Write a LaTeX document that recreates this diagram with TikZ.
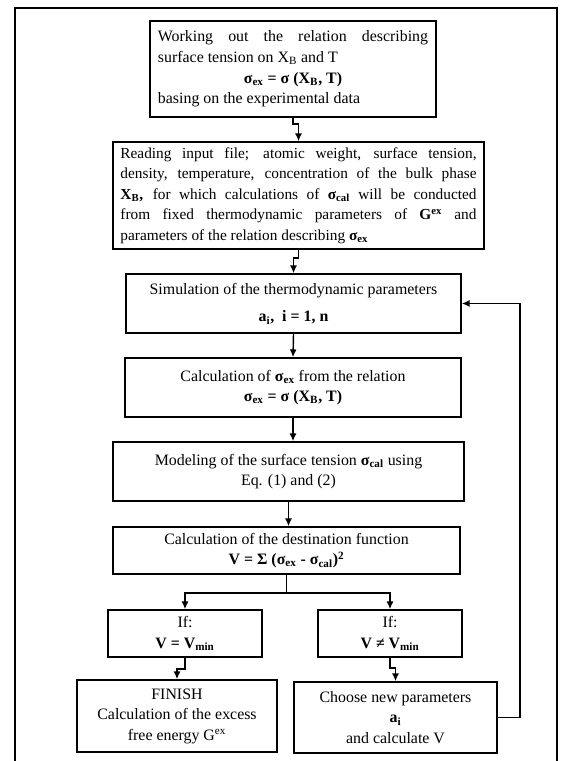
\documentclass[tikz,border=0pt]{standalone}
\usepackage{fontspec}
\setmainfont{Liberation Serif}
\usetikzlibrary{arrows.meta}

\begin{document}
\begin{tikzpicture}[x=0.025cm, y=-0.025cm]
        \tikzstyle{block}=[draw, line width=1.15pt, inner sep=0pt, align=center, font=\fontsize{11.3}{14.6}\selectfont]
        \tikzstyle{flow}=[line width=1pt, -{Latex[length=5.5pt,width=5pt]}]

        \useasboundingbox (0,0) rectangle (564,761);
        \draw[line width=0.9pt] (15,761) -- (15,8) -- (557,8) -- (557,761);

        \node[block, text width=6.75cm, inner xsep=0.2cm, minimum height=2.4cm, align=justify] (rel) at (293,69) {Working out the relation describing\linebreak surface tension on X\textsubscript{B} and T\\
            \hspace*{\fill}\textbf{σ\textsubscript{ex} = σ (X\textsubscript{B}, T)}\hspace*{\fill}\\
            basing on the experimental data};
        \node[block, text width=8.9cm, inner xsep=0.1875cm, minimum height=2.675cm, align=justify, font=\fontsize{10.9}{14.6}\selectfont] (inp) at (298.5,195.5) {Reading input file; atomic weight, surface tension,\linebreak
            density, temperature, concentration of the bulk phase\linebreak
            \textbf{X\textsubscript{B},} for which calculations of \textbf{σ\textsubscript{cal}} will be conducted\linebreak
            from fixed thermodynamic parameters of \textbf{G\textsuperscript{ex}} and\linebreak
            parameters of the relation describing \textbf{σ\textsubscript{ex}}};
        \node[block, minimum width=8.375cm, minimum height=1.475cm] (sim) at (293.5,303.5) {Simulation of the thermodynamic parameters\\[5pt] \textbf{a\textsubscript{i},\ \ i = 1, n}};
        \node[block, minimum width=8.4cm, minimum height=1.475cm] (sex) at (293,387.5) {Calculation of \textbf{σ\textsubscript{ex}} from the relation\\ \textbf{σ\textsubscript{ex} = σ (X\textsubscript{B}, T)}};
        \node[block, minimum width=8.775cm, minimum height=1.475cm] (mod) at (288.5,471.5) {Modeling of the surface tension \textbf{σ\textsubscript{cal}} using\\ Eq. (1) and (2)};
        \node[block, minimum width=8.675cm, minimum height=1.175cm] (dst) at (286.5,550.5) {Calculation of the destination function\\ \textbf{V = Σ (σ\textsubscript{ex} - σ\textsubscript{cal})\textsuperscript{2}}};
        \node[block, minimum width=3.85cm, minimum height=1.175cm] (ifeq) at (185,633.5) {If:\\ \textbf{V = V\textsubscript{min}}};
        \node[block, minimum width=3.6cm, minimum height=1.175cm] (ifne) at (390,633.5) {If:\\ \textbf{V ≠ V\textsubscript{min}}};
        \node[block, minimum width=5cm, minimum height=1.8cm] (fin) at (177,716) {FINISH\\ Calculation of the excess\\ free energy G\textsuperscript{ex}};
        \node[block, minimum width=5.075cm, minimum height=1.775cm] (new) at (395.5,717.5) {Choose new parameters\\ \textbf{a\textsubscript{i}}\\ and calculate V};

        \draw[flow] (rel.south) -- ++(0,6) -| (inp.north);
        \draw[flow] (inp.south) -- ++(0,8) -| (sim.north);
        \draw[flow] (sim.south) -- (sex.north);
        \draw[flow] (sex.south) -- (sex.south |- mod.north);
        \draw[flow] (mod.south) -- (mod.south |- dst.north);
        \draw[line width=1pt] (dst.south) -- ++(0,18) coordinate (br);
        \draw[flow] (br) -| (ifeq.north);
        \draw[flow] (br) -| (ifne.north);
        \draw[flow] (ifeq.south) -- ++(0,11) -| (fin.north);
        \draw[flow] (ifne.south) -- ++(0,10) -| (new.north);
        \draw[flow] (new.east) -- ++(22,0) |- (sim.east);
    \end{tikzpicture}
\end{document}
